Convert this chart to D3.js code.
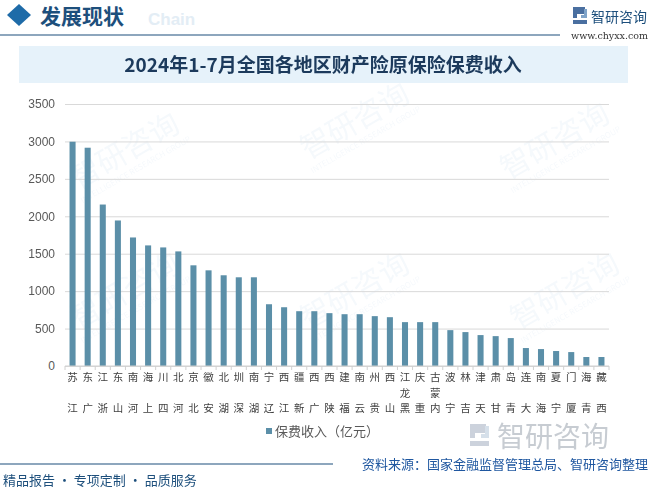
<!DOCTYPE html>
<html><head><meta charset="utf-8">
<script src="https://cdn.jsdelivr.net/npm/d3@7/dist/d3.min.js"></script>
<style>
html,body{margin:0;padding:0;background:#fff;}
svg{display:block;font-family:"Noto Sans CJK SC","Noto Sans",sans-serif;}
</style></head>
<body>
<svg id="c" width="649" height="488"></svg>
<script>
const categories = ["江苏","广东","浙江","山东","河南","上海","四川","河北","北京","安徽","湖北","深圳","湖南","辽宁","江西","新疆","广西","陕西","福建","云南","贵州","山西","黑龙江","重庆","内蒙古","宁波","吉林","天津","甘肃","青岛","大连","海南","宁夏","厦门","青海","西藏"];
const premium = [2996,2916,2157,1944,1717,1611,1584,1531,1345,1278,1212,1185,1185,825,785,732,732,706,692,692,666,652,586,586,586,479,453,413,399,373,240,226,200,186,120,120];
const yTicks = [0,500,1000,1500,2000,2500,3000,3500];
const seriesName = "保费收入（亿元）";
const titleText = "2024年1-7月全国各地区财产险原保险保费收入";
const sourceText = "资料来源：国家金融监督管理总局、智研咨询整理";
const sloganText = "精品报告 · 专项定制 · 品质服务";

const svg = d3.select("#c");
const navy = "#1d4f7c";

// faint watermarks
const wm = svg.append("g").attr("opacity",0.05);
[[130,160],[360,130],[560,150],[130,300],[360,300],[570,300]].forEach(([x,y])=>{
  const g = wm.append("g").attr("transform",`translate(${x},${y}) rotate(-30)`);
  g.append("text").attr("font-size",30).attr("fill","#3a7fc0").attr("text-anchor","middle").text("智研咨询");
  g.append("text").attr("y",14).attr("font-size",8).attr("fill","#3a7fc0").attr("text-anchor","middle").text("INTELLIGENCE RESEARCH GROUP");
});

// header
svg.append("path").attr("d","M19,4 L31,15 L19,26 L7,15 Z").attr("fill","#1e6ba8");
svg.append("text").attr("x",40).attr("y",24).attr("font-size",21).attr("font-weight","bold").attr("fill",navy).text("发展现状");
svg.append("text").attr("x",148).attr("y",25).attr("font-size",17).attr("font-weight","bold").attr("fill","#e3edf5").attr("font-family","Liberation Sans, Arial").text("Chain");
svg.append("line").attr("x1",0).attr("x2",560).attr("y1",35).attr("y2",35).attr("stroke",navy).attr("stroke-width",1.2);
// logo
const lg = svg.append("g").attr("transform","translate(573,7)");
lg.append("path").attr("d","M0,0 H12 V7 H4 V11 H0 Z").attr("fill","#4a6fa0");
lg.append("path").attr("d","M0,13 H14 V17 H0 Z").attr("fill","#4a6fa0");
lg.append("path").attr("d","M14,2 V11 H8 V8 H11 V2 Z").attr("fill","#7fa3c8");
svg.append("text").attr("x",591).attr("y",22).attr("font-size",14).attr("fill",navy).text("智研咨询");
svg.append("text").attr("x",648).attr("y",39).attr("text-anchor","end").attr("font-size",9.5).attr("fill","#333").attr("font-family","DejaVu Serif, serif").text("www.chyxx.com");

// title band
svg.append("rect").attr("x",19).attr("y",46).attr("width",609).attr("height",37).attr("fill","#e6f2fa");
svg.append("text").attr("x",323).attr("y",72).attr("text-anchor","middle").attr("font-size",19).attr("font-weight","bold").attr("fill","#1c3a5c").text(titleText);

// chart
const m = {l:65, r:609, t:104, b:366};
const x = d3.scaleBand().domain(categories).range([m.l,m.r]).paddingInner(0.6).paddingOuter(0.3);
const y = d3.scaleLinear().domain([0,3500]).range([m.b,m.t]);

const yAxis = d3.axisLeft(y).tickValues(yTicks).tickFormat(d3.format("d")).tickSize(-(m.r-m.l)).tickPadding(10);
const ga = svg.append("g").attr("transform",`translate(${m.l},0)`).call(yAxis);
ga.select(".domain").remove();
ga.selectAll(".tick line").attr("stroke","#d9d9d9");
ga.selectAll(".tick text").attr("font-size",12).attr("fill","#595959").attr("font-family","Liberation Sans, Arial, sans-serif");

svg.append("g").selectAll("rect").data(premium).join("rect")
  .attr("x",(d,i)=>x(categories[i]))
  .attr("width",x.bandwidth())
  .attr("y",d=>y(d))
  .attr("height",d=>y(0)-y(d))
  .attr("fill","#5b8fa8");

// x axis line + ticks at band boundaries
svg.append("line").attr("x1",m.l).attr("x2",m.r).attr("y1",m.b).attr("y2",m.b).attr("stroke","#d0d0d0");
const bounds = d3.range(categories.length+1).map(i=>m.l + i*(m.r-m.l)/categories.length);
svg.append("g").selectAll("line").data(bounds).join("line")
  .attr("x1",d=>d).attr("x2",d=>d).attr("y1",m.b).attr("y2",m.b+4).attr("stroke","#d0d0d0");

// stacked vertical labels (chars reversed, top to bottom)
const lab = svg.append("g").attr("font-size",10.5).attr("fill","#404040").attr("text-anchor","middle");
categories.forEach((c,i)=>{
  const chars = Array.from(c).reverse();
  const cx = x(c) + x.bandwidth()/2;
  const pos = chars.length===3 ? [377,392.5,408] : [377,408];
  chars.forEach((ch,j)=>{
    lab.append("text").attr("x",cx).attr("y",pos[j]+4).text(ch);
  });
});

// legend
svg.append("rect").attr("x",266).attr("y",428).attr("width",6).attr("height",6).attr("fill","#5b8fa8");
svg.append("text").attr("x",275).attr("y",436).attr("font-size",13).attr("fill","#595959").text(seriesName);

// bottom watermark logo
const bl = svg.append("g").attr("transform","translate(470,424)").attr("opacity",0.35);
bl.append("path").attr("d","M0,0 H16 V9 H5 V14 H0 Z").attr("fill","#6d7f9a");
bl.append("path").attr("d","M0,17 H19 V22 H0 Z").attr("fill","#6d7f9a");
bl.append("path").attr("d","M19,2 V14 H11 V10 H15 V2 Z").attr("fill","#8aa5c3");
svg.append("text").attr("x",497).attr("y",447).attr("font-size",28).attr("fill","#9aa3ae").attr("opacity",0.55).text("智研咨询");

// footer
svg.append("line").attr("x1",0).attr("x2",333).attr("y1",464).attr("y2",464).attr("stroke",navy).attr("stroke-width",1.2);
svg.append("text").attr("x",648).attr("y",469).attr("text-anchor","end").attr("font-size",13).attr("fill","#1f57a0").text(sourceText);
svg.append("text").attr("x",3).attr("y",485).attr("font-size",13).attr("fill",navy).text(sloganText);
</script>
</body></html>
